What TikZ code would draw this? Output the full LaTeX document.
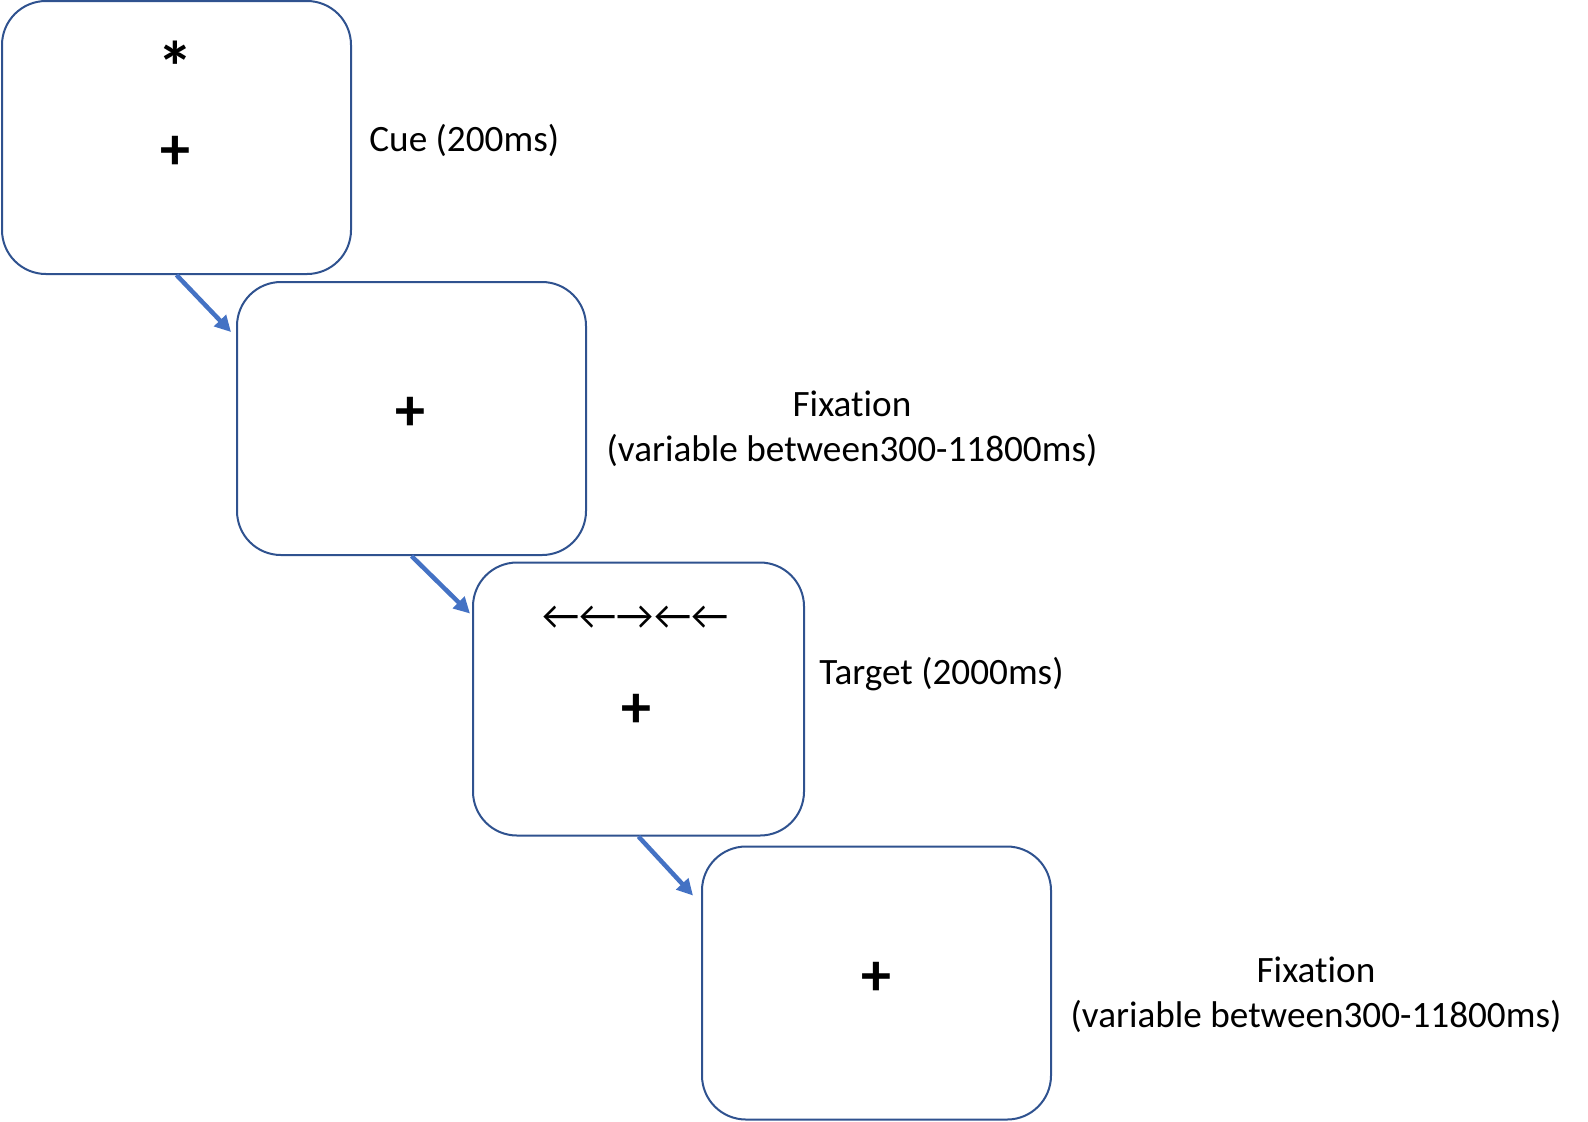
\documentclass[tikz,border=0pt]{standalone}
\usepackage{fontspec}
\setmainfont{Carlito}[Ligatures=NoCommon]
\usetikzlibrary{arrows.meta}
\definecolor{boxblue}{HTML}{2F528F}
\definecolor{arrblue}{HTML}{4472C4}
\begin{document}
\begin{tikzpicture}[x=0.5pt,y=-0.5pt,
  screen/.style={draw=boxblue,line width=1pt,rounded corners=22pt,minimum width=174.5pt,minimum height=136.5pt,inner sep=0pt},
  flow/.style={draw=arrblue,line width=2.25pt,-{Triangle[length=8pt,width=8pt]}},
  lbl/.style={font=\fontsize{18.6}{22.5}\selectfont,inner sep=0pt,align=center},
  cross/.style={font=\fontsize{30}{30}\selectfont\bfseries,inner sep=0pt},
  flank/.style={font=\fontsize{20.5}{20.5}\selectfont,inner sep=0pt}
]
\useasboundingbox (0,0) rectangle (1588,1121);
% screens
\node[screen] (b1) at (176.5,137.5) {};
\node[screen] (b2) at (411.5,418.5) {};
\node[screen,minimum width=165.5pt] (b3) at (638.5,699) {};
\node[screen] (b4) at (876.5,983) {};
% contents
\node[cross,font=\fontsize{36}{36}\selectfont\bfseries] (c1s) at (175,67) {*};
\node[cross] (c1p) at (175,153) {+};
\node[cross] (c2p) at (410,414) {+};
\node[flank] (c3a) at (635.5,618) {←←→←←};
\node[cross] (c3p) at (636,711) {+};
\node[cross] (c4p) at (876.5,979) {+};
% labels
\node[lbl,anchor=west] (l1) at (369,140) {Cue (200ms)};
\node[lbl] (l2) at (852,429) {Fixation\\(variable between300-11800ms)};
\node[lbl,anchor=west] (l3) at (819,674) {Target (2000ms)};
\node[lbl] (l4) at (1316,994.5) {Fixation\\(variable between300-11800ms)};
% connectors
\draw[flow] (b1.south) -- ([xshift=-2.5pt,yshift=-25.5pt]b2.north west);
\draw[flow] (b2.south) -- ([xshift=-1pt,yshift=-26pt]b3.north west);
\draw[flow] (b3.south) -- ([xshift=-4pt,yshift=-25pt]b4.north west);
\end{tikzpicture}
\end{document}
